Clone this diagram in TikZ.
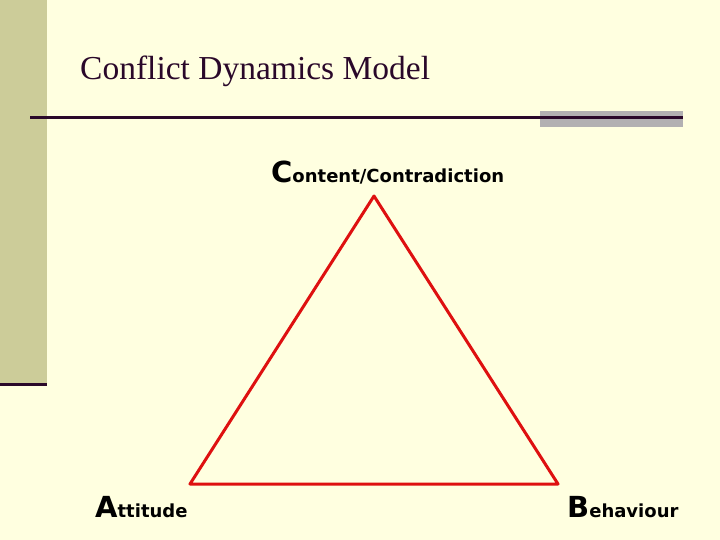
\documentclass[tikz,border=0pt]{standalone}
\usepackage{fontspec}
\setmainfont{Liberation Serif}
\newfontfamily\labfont{DejaVu Sans}
\definecolor{bgyellow}{RGB}{255,255,224}
\definecolor{barolive}{RGB}{204,204,153}
\definecolor{darkplum}{RGB}{42,8,42}
\definecolor{greybar}{RGB}{178,176,178}
\definecolor{trired}{RGB}{222,16,16}
\tikzset{
  rule/.style={draw=darkplum, line width=3pt},
  tri/.style={draw=trired, line width=3pt, line join=round},
  lab/.style={anchor=base west, inner sep=0pt, font=\labfont\bfseries},
  ttl/.style={anchor=base west, inner sep=0pt, text=darkplum, font=\fontsize{33.5}{38}\selectfont}
}
\newcommand{\biglet}[1]{{\fontsize{29}{34}\selectfont #1}}
\begin{document}
\begin{tikzpicture}[x=1pt,y=-1pt]
\fill[bgyellow] (0,0) rectangle (720,540);
\useasboundingbox (0,0) rectangle (720,540);
\fill[barolive] (0,0) rectangle (47,384);
\draw[rule] (0,384.5) -- (47,384.5);
\fill[greybar] (540,111) rectangle (683,127);
\draw[rule] (30,117.5) -- (683,117.5);
\node[ttl] (title) at (80,80) {Conflict Dynamics Model};
\coordinate (c) at (374,196);
\coordinate (a) at (190,484);
\coordinate (b) at (558,484);
\draw[tri] (c) -- (a) -- (b) -- cycle;
\node[lab] (lc) at (271,183) {\biglet{C}{\fontsize{18}{22}\selectfont ontent/Contradiction}};
\node[lab] (la) at (95,517) {\biglet{A}{\fontsize{18}{22}\selectfont ttitude}};
\node[lab] (lb) at (567,517) {\biglet{B}{\fontsize{18}{22}\selectfont ehaviour}};
\end{tikzpicture}
\end{document}
